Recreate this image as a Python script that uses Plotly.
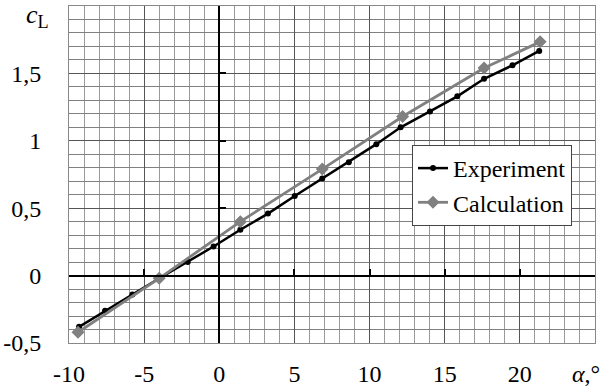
import plotly.graph_objects as go

# Data
exp_alpha = [-9.33, -7.6, -5.78, -3.98, -2.1, -0.38, 1.4, 3.24, 5.02, 6.85, 8.62,
             10.45, 12.07, 14.02, 15.84, 17.62, 19.51, 21.29]
exp_cl = [-0.38, -0.26, -0.14, -0.02, 0.10, 0.216, 0.34, 0.46, 0.59, 0.72, 0.84,
          0.975, 1.10, 1.217, 1.33, 1.46, 1.56, 1.667]

calc_alpha = [-9.4, -4.0, 1.4, 6.85, 12.2, 17.62, 21.35]
calc_cl = [-0.42, -0.02, 0.40, 0.79, 1.18, 1.54, 1.734]

x_tickvals = [-10, -5, 0, 5, 10, 15, 20]
x_ticktext = ["-10", "-5", "0", "5", "10", "15", "20"]
y_tickvals = [-0.5, 0, 0.5, 1, 1.5]
y_ticktext = ["-0,5", "0", "0,5", "1", "1,5"]

FONT = "Liberation Serif"

fig = go.Figure()
fig.add_trace(go.Scatter(
    x=exp_alpha, y=exp_cl, mode="lines+markers", name="Experiment",
    line=dict(color="#000000", width=2.5),
    marker=dict(symbol="circle", size=6, color="#000000"),
))
fig.add_trace(go.Scatter(
    x=calc_alpha, y=calc_cl, mode="lines+markers", name="Calculation",
    line=dict(color="#808080", width=2.8),
    marker=dict(symbol="diamond", size=10, color="#808080"),
))

# overlay axes that draw the crossing axis lines with tick marks
fig.add_trace(go.Scatter(x=[None], y=[None], xaxis="x2", yaxis="y2", showlegend=False))

xr = [-10, 25]
yr = [-0.5, 2.0]

fig.update_layout(
    width=602, height=389,
    margin=dict(l=69, r=7, t=6, b=46, autoexpand=False),
    paper_bgcolor="white", plot_bgcolor="white",
    font=dict(family=FONT, size=24, color="black"),
    showlegend=True,
    legend=dict(
        x=(412 - 69) / 526, y=(343 - 145) / 337, xanchor="left", yanchor="top",
        bgcolor="white", bordercolor="#444444", borderwidth=1,
        font=dict(family=FONT, size=24, color="black"),
        tracegroupgap=0, itemwidth=30,
    ),
    xaxis=dict(
        range=xr, tickmode="array", tickvals=x_tickvals, ticktext=x_ticktext,
        showgrid=True, gridcolor="#555555", gridwidth=1,
        minor=dict(dtick=1, showgrid=True, gridcolor="#999999", gridwidth=1),
        zeroline=False, showline=True, linecolor="#888888", linewidth=1, mirror=True,
        ticks="", ticklabelstandoff=9, automargin=False,
        tickfont=dict(family=FONT, size=24),
    ),
    yaxis=dict(
        range=yr, tickmode="array", tickvals=y_tickvals, ticktext=y_ticktext,
        showgrid=True, gridcolor="#555555", gridwidth=1,
        minor=dict(dtick=0.1, showgrid=True, gridcolor="#808080", gridwidth=1),
        zeroline=False, showline=True, linecolor="#888888", linewidth=1, mirror=True,
        ticks="", ticklabelstandoff=22, automargin=False,
        tickfont=dict(family=FONT, size=24),
    ),
    xaxis2=dict(
        range=xr, overlaying="x", anchor="free", position=(0 - yr[0]) / (yr[1] - yr[0]),
        side="bottom", showgrid=False, zeroline=False, showticklabels=False,
        showline=True, linecolor="black", linewidth=1.5, automargin=False,
        ticks="inside", ticklen=6, tickcolor="black", tickwidth=1.5,
        tickmode="array", tickvals=x_tickvals + [25],
    ),
    yaxis2=dict(
        range=yr, overlaying="y", anchor="free", position=(0 - xr[0]) / (xr[1] - xr[0]),
        side="left", showgrid=False, zeroline=False, showticklabels=False,
        showline=True, linecolor="black", linewidth=1.5, automargin=False,
        ticks="inside", ticklen=6, tickcolor="black", tickwidth=1.5,
        tickmode="array", tickvals=y_tickvals + [2.0],
    ),
    annotations=[
        dict(text="<i>c</i><sub>L</sub>", xref="paper", yref="paper",
             x=-0.035, y=1.0, xanchor="right", yanchor="top", yshift=8, showarrow=False,
             font=dict(family=FONT, size=26, color="black")),
        dict(text="<i>α</i>,°", xref="paper", yref="paper",
             x=1.0 + 7 / 526, y=-(374 - 343) / 337, xanchor="right", yanchor="middle",
             showarrow=False, font=dict(family=FONT, size=24, color="black")),
    ],
)

fig.write_html("out.html")
